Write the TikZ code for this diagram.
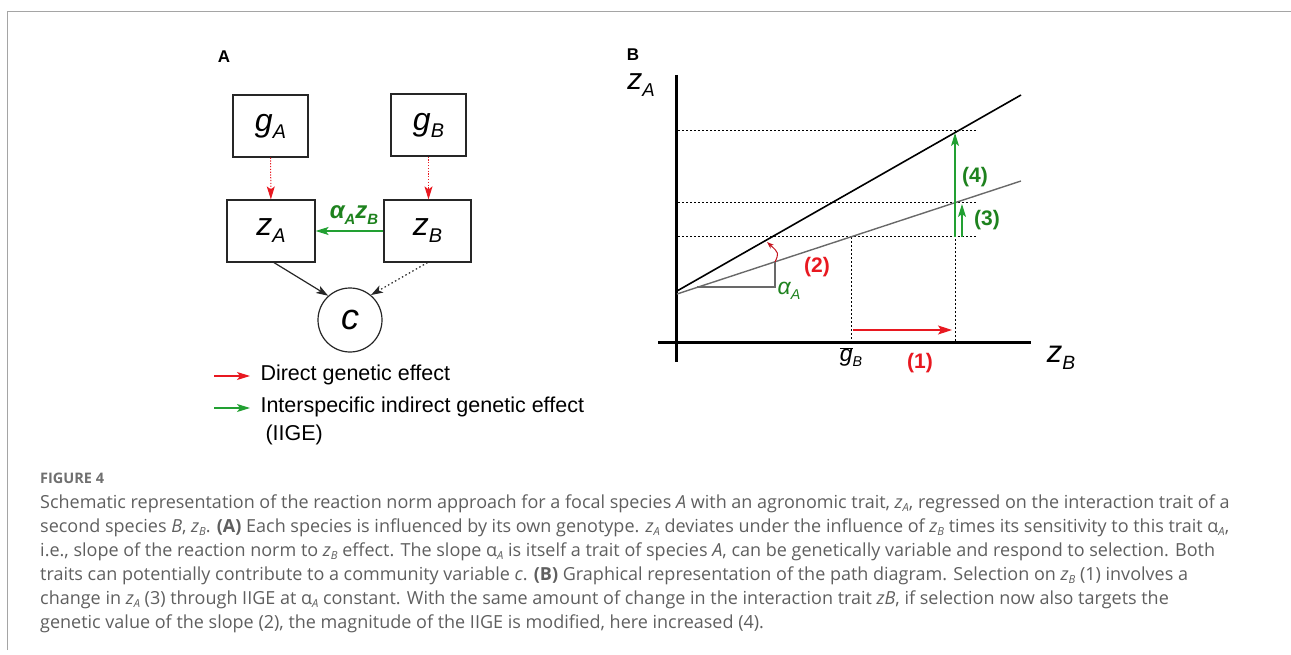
\documentclass[tikz,border=0pt]{standalone}
\usepackage{fontspec}
\setmainfont{Liberation Sans}
\newfontfamily\capfont{Open Sans}
\usetikzlibrary{arrows.meta}

\definecolor{dgered}{RGB}{232,24,32}
\definecolor{slopered}{RGB}{196,20,30}
\definecolor{iigegreen}{RGB}{34,160,50}
\definecolor{labgreen}{RGB}{30,130,30}
\definecolor{framegray}{RGB}{165,165,165}
\definecolor{captext}{RGB}{95,95,95}
\definecolor{normgray}{RGB}{105,105,105}

% lowered index, used in place of math subscripts
\newcommand{\idx}[1]{\raisebox{-0.22em}{\scalebox{0.62}{#1}}}
\newcommand{\cz}[1]{\textit{z}\idx{\textit{#1}}}
\newcommand{\ca}{α\idx{\textit{A}}}

\tikzset{
  varbox/.style={draw=black!85, line width=1.2pt, inner sep=0pt, minimum height=62pt,
    font=\fontsize{32}{32}\selectfont\itshape},
  dge/.style={dgered, dash pattern=on 1.2pt off 1.6pt, line width=1pt,
    -{Stealth[length=13pt,width=8pt,inset=3pt]}},
  iige/.style={iigegreen, line width=1.3pt, -{Stealth[length=13pt,width=8pt,inset=3pt]}},
  effect/.style={black!85, line width=1.2pt, -{Stealth[length=12pt,width=8pt,inset=3pt]}},
  axis/.style={line width=3pt},
  guide/.style={dash pattern=on 2pt off 2pt, line width=1pt},
  numlab/.style={font=\fontsize{21}{21}\selectfont\bfseries},
  legtext/.style={anchor=west, font=\fontsize{21.5}{21.5}\selectfont},
  capline/.style={anchor=base west, inner sep=0pt, text=captext,
    font=\capfont\fontsize{18}{18}\selectfont},
}

\begin{document}
\begin{tikzpicture}[x=1pt, y=-1pt]
  \useasboundingbox (0,0) rectangle (1291,655);
  % Frame
  \draw[framegray, line width=1.3pt] (7.5,650) -- (7.5,11.5) -- (1291,11.5);

  % Panel A: path diagram
  \node[inner sep=0pt, font=\fontsize{17}{17}\selectfont\bfseries] (labA) at (224,57) {A};
  \node[varbox, minimum width=75pt] (gA) at (270.5,126) {g\idx{A}};
  \node[varbox, minimum width=75pt] (gB) at (428.5,125) {g\idx{B}};
  \node[varbox, minimum width=88pt] (zA) at (271,231) {z\idx{A}};
  \node[varbox, minimum width=87pt] (zB) at (427.5,231) {z\idx{B}};
  \node[draw=black!85, line width=1.2pt, circle, minimum size=64pt, inner sep=0pt,
    font=\fontsize{36}{36}\selectfont\itshape] (c) at (350,320) {c};
  \draw[dge] (gA) -- (zA);
  \draw[dge] (gB) -- (gB |- zB.north);
  \draw[iige] (zB) -- (zA);
  \node[labgreen, inner sep=0pt, font=\fontsize{24}{24}\selectfont\bfseries\itshape] (azB) at (354,215) {α\idx{A}z\idx{B}};
  \draw[effect] ([xshift=3pt]zA.south) -- (c.132);
  \draw[effect, dash pattern=on 1.5pt off 2.5pt] (zB.south) -- (c.50);

  % Legend
  \coordinate (r0) at (214,376);
  \coordinate (r1) at (250,376);
  \coordinate (g0) at (214,408);
  \coordinate (g1) at (250,408);
  \draw[dgered, line width=1.2pt, -{Stealth[length=13pt,width=8pt,inset=3pt]}] (r0) -- (r1);
  \draw[iigegreen, line width=1.2pt, -{Stealth[length=13pt,width=8pt,inset=3pt]}] (g0) -- (g1);
  \node[legtext] (legR) at (257,375) {Direct genetic effect};
  \node[legtext] (legG) at (257,407) {Interspecific indirect genetic effect};
  \node[legtext] (legG2) at (262,435) {(IIGE)};

  % Panel B: reaction norms
  \node[inner sep=0pt, font=\fontsize{17}{17}\selectfont\bfseries] (labB) at (633,55) {B};
  \node[inner sep=0pt, font=\fontsize{30}{30}\selectfont\itshape] (axA) at (641,85) {z\idx{A}};
  \node[inner sep=0pt, font=\fontsize{31}{31}\selectfont\itshape] (axB) at (1061,358) {z\idx{B}};
  % Axes
  \draw[axis] (676,75) -- (676,362);
  \draw[axis] (658,342) -- (1031,342);
  % Guide lines
  \foreach \y in {131,203,237}
    \draw[guide] (678,\y) -- (976,\y);
  \draw[guide] (851,237) -- (851,341);
  \draw[guide] (955,131) -- (955,341);
  % Norms
  \draw[black, line width=1.6pt] (677,291) -- (1021,95);
  \draw[normgray, line width=1.4pt] (677,294) -- (1021,181);
  \draw[normgray, line width=1.2pt] (697,287) -- (775,287) -- (775,262);
  \draw[slopered, line width=1pt, -{Stealth[length=7pt,width=5pt,inset=2pt]}]
    (775,262) .. controls (779,253) .. (767,242);
  % Shifts
  \draw[dgered, line width=1.2pt, -{Stealth[length=14pt,width=9pt,inset=3pt]}] (853,330) -- (952,330);
  \draw[iigegreen, line width=1.3pt, -{Stealth[length=13pt,width=8pt,inset=3pt]}] (955,237) -- (955,133);
  \draw[iigegreen, line width=1.3pt, -{Stealth[length=13pt,width=8pt,inset=3pt]}] (962,237) -- (962,204);
  % Labels
  \node[font=\fontsize{23}{23}\selectfont] (gbar) at (851,357) {$\overline{\mbox{\itshape g}}$\idx{\itshape B}};
  \node[labgreen, font=\fontsize{23}{23}\selectfont\itshape] (alpha) at (789,291) {α\idx{A}};
  \node[numlab, dgered] (n1) at (920,363) {(1)};
  \node[numlab, dgered] (n2) at (817,267) {(2)};
  \node[numlab, labgreen] (n3) at (987,220) {(3)};
  \node[numlab, labgreen] (n4) at (975,177) {(4)};

  % Caption
  \node[anchor=base west, inner sep=0pt, text=captext!90,
    font=\capfont\fontsize{14.5}{14.5}\selectfont\bfseries] (fig) at (40,483) {FIGURE 4};
  \node[capline] (cap1) at (40,508) {Schematic representation of the reaction norm approach for a focal species \textit{A} with an agronomic trait, \cz{A}, regressed on the interaction trait of a};
  \node[capline] (cap2) at (40,532) {second species \textit{B}, \cz{B}. \textbf{(A)} Each species is influenced by its own genotype. \cz{A} deviates under the influence of \cz{B} times its sensitivity to this trait \ca,};
  \node[capline] (cap3) at (40,556) {i.e., slope of the reaction norm to \cz{B} effect. The slope \ca{} is itself a trait of species \textit{A}, can be genetically variable and respond to selection. Both};
  \node[capline] (cap4) at (40,580) {traits can potentially contribute to a community variable \textit{c}. \textbf{(B)} Graphical representation of the path diagram. Selection on \cz{B} (1) involves a};
  \node[capline] (cap5) at (40,604) {change in \cz{A} (3) through IIGE at \ca{} constant. With the same amount of change in the interaction trait \textit{zB}, if selection now also targets the};
  \node[capline] (cap6) at (40,628) {genetic value of the slope (2), the magnitude of the IIGE is modified, here increased (4).};
\end{tikzpicture}
\end{document}
